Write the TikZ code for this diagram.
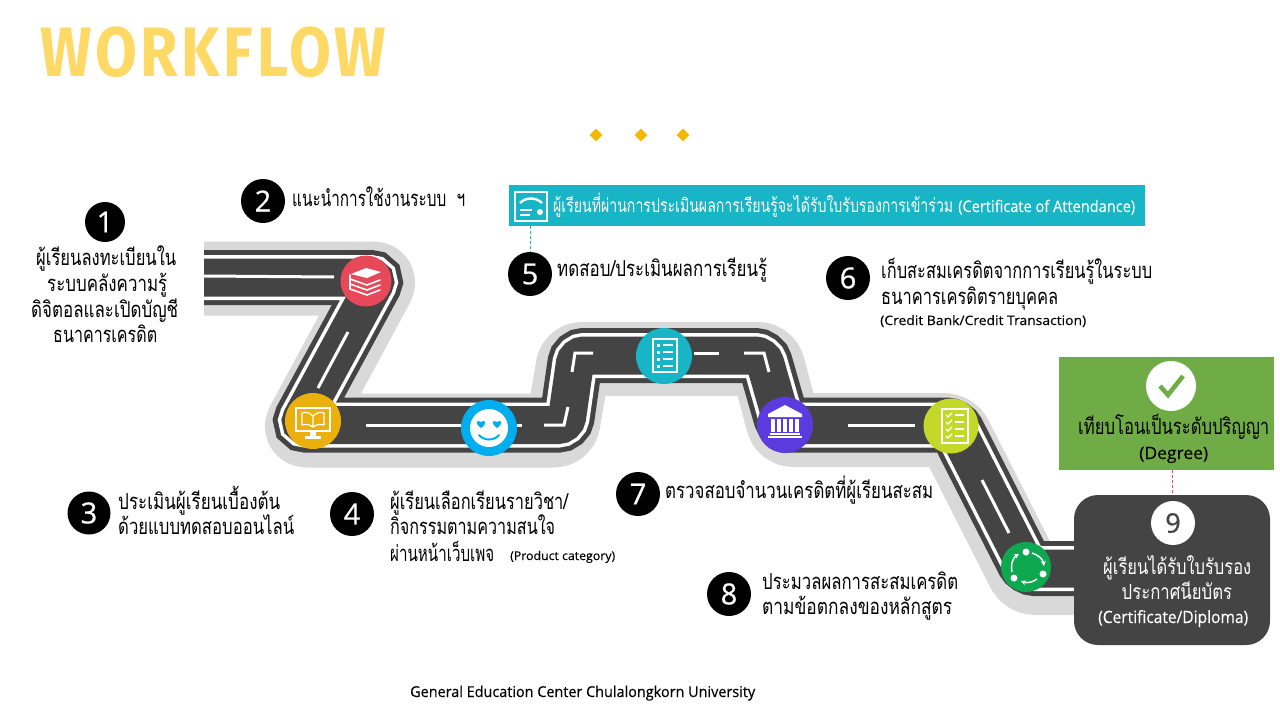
\documentclass[tikz,border=0pt]{standalone}
\usepackage{fontspec}
\usepackage{graphicx}
\usetikzlibrary{shapes.geometric,arrows.meta}
\newfontfamily\thaifont[Script=Thai]{Loma}
\newfontfamily\numfont[FakeBold=0.7]{Open Sans}
\newfontfamily\latinfont[FakeBold=0.3]{Open Sans}
\newfontfamily\titlefont[LetterSpace=6]{Fira Sans}
\newcommand\W[2]{\resizebox{#1pt}{\height}{#2}}
\definecolor{road}{HTML}{444444}
\definecolor{halo}{HTML}{D9D9D9}
\definecolor{tealc}{HTML}{17B5C5}
\definecolor{greenc}{HTML}{6FAC46}
\definecolor{titlec}{HTML}{FFD966}
\definecolor{goldc}{HTML}{F5B800}
\definecolor{redc}{HTML}{E8495A}
\definecolor{yelc}{HTML}{EBB00C}
\definecolor{bluec}{HTML}{00AEEF}
\definecolor{purc}{HTML}{5B3BDD}
\definecolor{limec}{HTML}{C4D82A}
\definecolor{grnc}{HTML}{0DA84F}
\def\roadpath{(204,277.5) -- (378,277.5) -- (298,425) -- (566,425) -- (576,355.5) -- (763,355.5) -- (783,425) -- (954,425) -- (1027,568.5) -- (1090,568.5)}
\def\halopath{(204,278.5) -- (381,278.5) -- (299,430.5) -- (562,430.5) -- (574,359) -- (766,359) -- (785,430) -- (952,430) -- (1027,578) -- (1090,578)}
\tikzset{
  num/.style={circle,fill=black,text=white,minimum size=44pt,inner sep=0pt,font=\numfont\fontsize{29}{29}\selectfont},
  txt/.style={anchor=base west,inner sep=0pt,text=black,font=\thaifont\fontsize{22}{22}\selectfont},
  small/.style={anchor=base west,inner sep=0pt,text=black},
  wtxt/.style={anchor=base west,inner sep=0pt,text=white,font=\thaifont\fontsize{21}{21}\selectfont},
  stop/.style={circle,inner sep=0pt},
  dash5/.style={densely dashed,line width=.7pt},
  centerline/.style={white,line width=3pt},
  ic/.style={white,line width=1.6pt,line join=round,line cap=round}
}
\begin{document}
\begin{tikzpicture}[x=1pt,y=-1pt]
\useasboundingbox (0,0) rectangle (1280,720);
\fill[white] (0,0) rectangle (1280,720);
% title
\node[anchor=base west,inner sep=0pt,text=titlec,font=\titlefont\bfseries\fontsize{70}{70}\selectfont] (title) at (40,76) {\W{346}{WORKFLOW}};
\node[diamond,fill=goldc,minimum size=13pt,inner sep=0pt] (d1) at (596,135) {};
\node[diamond,fill=goldc,minimum size=13pt,inner sep=0pt] (d2) at (641,135) {};
\node[diamond,fill=goldc,minimum size=13pt,inner sep=0pt] (d3) at (683,135) {};
% road
\draw[halo,line width=74pt,rounded corners=8pt,line join=round] \halopath;
\draw[road,line width=55pt,rounded corners=8pt] \roadpath;
\draw[white,line width=45pt,rounded corners=8pt] \roadpath;
\draw[road,line width=38pt,rounded corners=8pt] \roadpath;
\draw[centerline] (204,276) -- (334,277);
\draw[centerline] (348,332) -- (318,388);
\draw[centerline] (366,425) -- (522,425);
\draw[centerline] (544,425) -- (564,425) -- (568,407);
\draw[centerline] (572,372) -- (575,353) -- (593,353);
\draw[centerline] (694,353) -- (719,353);
\draw[centerline] (744,353) -- (764,353) -- (769,372);
\draw[centerline] (848,425) -- (915,425);
\draw[centerline] (982,480) -- (1009,533);
% stops
\node[stop,fill=redc,minimum size=51pt] (s1) at (366,281) {};
\node[stop,fill=yelc,minimum size=56pt] (s2) at (313,421) {};
\node[stop,fill=bluec,minimum size=56pt] (s3) at (489,428) {};
\node[stop,fill=tealc,minimum size=56pt] (s4) at (664,356) {};
\node[stop,fill=purc,minimum size=56pt] (s5) at (785,425) {};
\node[stop,fill=limec,minimum size=55pt] (s6) at (951,426) {};
\node[stop,fill=grnc,minimum size=50pt] (s7) at (1026,567) {};
% books
\begin{scope}[shift={(366,281)}]
\fill[white] (-15,-7) -- (0,-13) -- (15,-9) -- (1,-3) -- cycle;
\draw[ic] (-16,-6) -- (-16,-2) -- (1,4) -- (14,-1);
\draw[ic] (-16,-2) -- (-16,3) -- (1,9) -- (14,4);
\draw[ic] (-16,3) -- (-16,8) -- (1,14) -- (14,9);
\end{scope}
% monitor
\begin{scope}[shift={(313,421)}]
\draw[white,line width=1.8pt] (-17,-13) rectangle (17,10);
\fill[white] (-3,10) rectangle (3,15);
\fill[white] (-8,15) rectangle (8,17.5);
\draw[white,line width=1.2pt,line join=round] (0,-5) .. controls (-4,-9) and (-8,-9) .. (-11,-8) -- (-11,4) .. controls (-8,3) and (-4,3) .. (0,6) .. controls (4,3) and (8,3) .. (11,4) -- (11,-8) .. controls (8,-9) and (4,-9) .. (0,-5) -- (0,6);
\end{scope}
% smiley
\begin{scope}[shift={(489,428)}]
\fill[white] (0,0) circle (19);
\foreach \sx in {-8,8}{
 \fill[bluec,shift={(\sx,-4)}] (0,4) .. controls (-7,-1) and (-4,-5) .. (0,-2) .. controls (4,-5) and (7,-1) .. (0,4) -- cycle;
}
\draw[bluec,line width=2pt,line cap=round] (-10,7) .. controls (-5,13) and (5,13) .. (10,7);
\end{scope}
% list
\begin{scope}[shift={(665,356)}]
\draw[white,line width=1.8pt] (-12,-17) rectangle (12,16);
\foreach \ly in {-11,-4,3,10}{
 \fill[white] (-8,\ly-1.5) rectangle (-5,\ly+1.5);
 \draw[white,line width=1.5pt] (-2,\ly) -- (8,\ly);
}
\end{scope}
% bank
\begin{scope}[shift={(785,421)}]
\fill[white] (-17,-7) -- (0,-16) -- (17,-7) -- (17,-4) -- (-17,-4) -- cycle;
\foreach \cx in {-12,-6,0,6,12}{\fill[white] (\cx-1.6,-2) rectangle (\cx+1.6,11);}
\fill[white] (-15,12) rectangle (15,14);
\fill[white] (-17,14.5) rectangle (17,17);
\end{scope}
% checklist
\begin{scope}[shift={(955,426)}]
\draw[white,line width=2pt] (-13,-17) rectangle (13,17);
\foreach \ly in {-11,-4,3,10}{
 \draw[white,line width=1.2pt] (-9,\ly) -- (-7,\ly+2) -- (-3,\ly-2);
 \draw[white,line width=1.3pt] (0,\ly) -- (9,\ly);
}
\end{scope}
% cycle
\begin{scope}[shift={(1028,566)}]
\fill[white] (-2,-14) circle (3.5) (-14,12) circle (3.5) (15,8) circle (3.5);
\draw[white,line width=1.5pt,-{Stealth[length=5pt,width=5pt]}] (-16,6) .. controls (-18,-3) and (-14,-9) .. (-9,-12);
\draw[white,line width=1.5pt,-{Stealth[length=5pt,width=5pt]}] (4,-13) .. controls (10,-11) and (15,-7) .. (16,0);
\draw[white,line width=1.5pt,-{Stealth[length=5pt,width=5pt]}] (9,13) .. controls (4,17) and (-2,17) .. (-7,15);
\end{scope}
% banner
\node[fill=tealc,inner sep=0pt,minimum width=636pt,minimum height=41pt] (banner) at (827,205.5) {};
\draw[white,line width=2pt] (515,192) rectangle (547,221);
\draw[white,line width=2.4pt] (520,203) .. controls (526,197) and (536,197) .. (542,203);
\draw[white,line width=1.6pt] (520,210) -- (532,210) (520,215) -- (530,215);
\fill[white] (540,212) circle (3);
\node[wtxt,font=\thaifont\fontsize{19}{19}\selectfont] (bt) at (553,212) {\W{400}{ผู้เรียนที่ผ่านการประเมินผลการเรียนรู้จะได้รับใบรับรองการเข้าร่วม}};
\node[wtxt,font=\latinfont\fontsize{16}{16}\selectfont] (bl) at (958,212) {\W{177}{(Certificate of Attendance)}};
% green box
\node[fill=greenc,inner sep=0pt,minimum width=215pt,minimum height=113pt] (gbox) at (1166.5,413.5) {};
\node[circle,fill=white,minimum size=50pt,inner sep=0pt] (chk) at (1171,386) {};
\draw[greenc,line width=4.5pt] (1160,386) -- (1168,395) -- (1183,376);
\node[txt] (g1) at (1078,434) {\W{191}{เทียบโอนเป็นระดับปริญญา}};
\node[txt,font=\latinfont\fontsize{17}{17}\selectfont] (g2) at (1139,459) {\W{69}{(Degree)}};
% box 9
\node[fill=road,rounded corners=24pt,inner sep=0pt,minimum width=196pt,minimum height=150pt] (box9) at (1172,570) {};
\node[circle,fill=white,minimum size=44pt,inner sep=0pt,font=\numfont\fontsize{27}{27}\selectfont,text=road] (n9) at (1173,523) {9};
\node[wtxt] (b1) at (1103,574) {\W{148}{ผู้เรียนได้รับใบรับรอง}};
\node[wtxt] (b2) at (1121.5,599) {\W{110.5}{ประกาศนียบัตร}};
\node[wtxt,font=\latinfont\fontsize{17}{17}\selectfont] (b3) at (1098,623) {\W{150}{(Certificate/Diploma)}};
% numbers
\node[num,minimum size=40pt] (n1) at (105,222) {1};
\node[num] (n2) at (263,201) {2};
\node[num,minimum size=43pt] (n3) at (89,513) {3};
\node[num] (n4) at (352,514) {4};
\node[num] (n5) at (530,274) {5};
\node[num] (n6) at (848,278) {6};
\node[num] (n7) at (638,494) {7};
\node[num] (n8) at (729,594) {8};
% texts
\node[txt] (t1a) at (36,265) {\W{140}{ผู้เรียนลงทะเบียนใน}};
\node[txt] (t1b) at (47,291) {\W{120}{ระบบคลังความรู้}};
\node[txt] (t1c) at (31,317) {\W{147}{ดิจิตอลและเปิดบัญชี}};
\node[txt] (t1d) at (53,342) {\W{104}{ธนาคารเครดิต}};
\node[txt] (t2) at (292,206) {\W{173}{แนะนำการใช้งานระบบ\ \ ฯ}};
\node[txt] (t3a) at (118,509) {\W{162}{ประเมินผู้เรียนเบื้องต้น}};
\node[txt] (t3b) at (118,534) {\W{176}{ด้วยแบบทดสอบออนไลน์}};
\node[txt] (t4a) at (390,509) {\W{178}{ผู้เรียนเลือกเรียนรายวิชา/}};
\node[txt] (t4b) at (390,534) {\W{165}{กิจกรรมตามความสนใจ}};
\node[txt] (t4c) at (390,561) {\W{104}{ผ่านหน้าเว็บเพจ}};
\node[small,font=\latinfont\fontsize{12}{12}\selectfont] (t4d) at (510,560) {\W{105}{(Product category)}};
\node[txt] (t5) at (557,276) {\W{210}{ทดสอบ/ประเมินผลการเรียนรู้}};
\node[txt] (t6a) at (881,278) {\W{271}{เก็บสะสมเครดิตจากการเรียนรู้ในระบบ}};
\node[txt] (t6b) at (881,304) {\W{177}{ธนาคารเครดิตรายบุคคล}};
\node[small,font=\latinfont\fontsize{13}{13}\selectfont] (t6c) at (880,325) {\W{206}{(Credit Bank/Credit Transaction)}};
\node[txt] (t7) at (665,498) {\W{268}{ตรวจสอบจำนวนเครดิตที่ผู้เรียนสะสม}};
\node[txt] (t8a) at (762,589) {\W{196}{ประมวลผลการสะสมเครดิต}};
\node[txt] (t8b) at (762,614) {\W{190}{ตามข้อตกลงของหลักสูตร}};
\node[small,font=\latinfont\fontsize{15}{15}\selectfont] (foot) at (410,697) {\W{345}{General Education Center Chulalongkorn University}};
% connectors
\draw[tealc,dash5] (n5.north |- banner.south) -- (n5.north);
\draw[redc,dash5] (box9.north |- gbox.south) -- (box9.north);
\end{tikzpicture}
\end{document}
